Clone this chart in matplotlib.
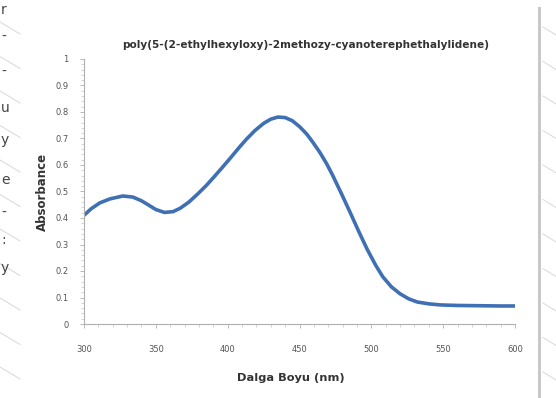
import matplotlib
matplotlib.use("Agg")
import matplotlib.pyplot as plt
from matplotlib.ticker import MultipleLocator
from matplotlib.lines import Line2D

# Data
wavelength = [300, 305, 311, 318, 327, 334, 340, 344, 350, 356, 362, 367, 373,
              379, 385, 390, 396, 402, 408, 413, 419, 425, 430, 435, 440, 445,
              450, 455, 459, 464, 469, 473, 479, 485, 491, 497, 503, 508, 514,
              520, 526, 532, 540, 548, 560, 575, 590, 600]
absorbance = [0.41, 0.435, 0.457, 0.472, 0.483, 0.479, 0.465, 0.452, 0.432,
              0.421, 0.424, 0.437, 0.46, 0.49, 0.522, 0.552, 0.589, 0.627,
              0.666, 0.697, 0.73, 0.757, 0.773, 0.781, 0.779, 0.767, 0.745,
              0.717, 0.688, 0.649, 0.604, 0.562, 0.494, 0.424, 0.352, 0.283,
              0.222, 0.178, 0.14, 0.114, 0.095, 0.083, 0.076, 0.072, 0.07,
              0.069, 0.068, 0.068]

xticks = [300, 350, 400, 450, 500, 550, 600]
yticks = [0, 0.1, 0.2, 0.3, 0.4, 0.5, 0.6, 0.7, 0.8, 0.9, 1.0]
ytick_labels = ["0", "0.1", "0.2", "0.3", "0.4", "0.5", "0.6", "0.7", "0.8", "0.9", "1"]
title = "poly(5-(2-ethylhexyloxy)-2methozy-cyanoterephethalylidene)"
xlabel = "Dalga Boyu (nm)"
ylabel = "Absorbance"
fragments = ["r", "-", "-", "u", "y", "e", "-", ":", "y"]

W, H = 556, 398
fig = plt.figure(figsize=(W / 100, H / 100), dpi=100)
fig.patch.set_facecolor("white")

# Background decoration: diagonal lines in side strips and right border
for i in range(12):
    y0 = 22 + i * 34.5
    fig.add_artist(Line2D([0 / W, 20 / W], [1 - y0 / H, 1 - (y0 + 12) / H],
                          color="#d8d8d8", lw=0.7, transform=fig.transFigure))
    fig.add_artist(Line2D([543 / W, 556 / W], [1 - (y0 + 5) / H, 1 - (y0 + 13) / H],
                          color="#d8d8d8", lw=0.7, transform=fig.transFigure))
fig.add_artist(Line2D([539 / W, 539 / W], [0, 1 - 8 / H], color="#c8c8c8", lw=2.2,
                      transform=fig.transFigure))
frag_y = [10, 37, 72, 108, 140, 180, 213, 240, 268]
for ch, fy in zip(fragments, frag_y):
    fig.text(1 / W, 1 - fy / H, ch, fontsize=10, color="#444444",
             ha="left", va="center")

ax = fig.add_axes([84 / W, 1 - 324 / H, (515 - 84) / W, (324 - 59) / H])
ax.plot(wavelength, absorbance, color="#3f70b4", lw=2.6, solid_capstyle="round",
        solid_joinstyle="round")

ax.set_xlim(300, 600)
ax.set_ylim(0, 1)
ax.set_xticks(xticks)
ax.set_xticklabels([str(v) for v in xticks])
ax.set_yticks(yticks)
ax.set_yticklabels(ytick_labels)
ax.xaxis.set_minor_locator(MultipleLocator(10))
ax.yaxis.set_minor_locator(MultipleLocator(0.02))

for s in ["top", "right"]:
    ax.spines[s].set_visible(False)
for s in ["left", "bottom"]:
    ax.spines[s].set_color("#b0b0b0")
    ax.spines[s].set_linewidth(0.8)

ax.tick_params(axis="both", which="major", labelsize=6, colors="#b0b0b0",
               labelcolor="#555555", length=3, width=0.6)
ax.tick_params(axis="both", which="minor", colors="#c0c0c0", length=2, width=0.5)
ax.tick_params(axis="x", pad=12)
ax.tick_params(axis="y", pad=8)

fig.text(306 / W, 1 - 45 / H, title, fontsize=7.6, fontweight="bold",
         color="#333333", ha="center", va="center")
fig.text(291 / W, 1 - 378 / H, xlabel, fontsize=8.2, fontweight="bold",
         color="#333333", ha="center", va="center")
fig.text(42 / W, 1 - 192 / H, ylabel, fontsize=8.5, fontweight="bold",
         color="#333333", ha="center", va="center", rotation=90)

fig.savefig("out.png", dpi=100, facecolor="white")
